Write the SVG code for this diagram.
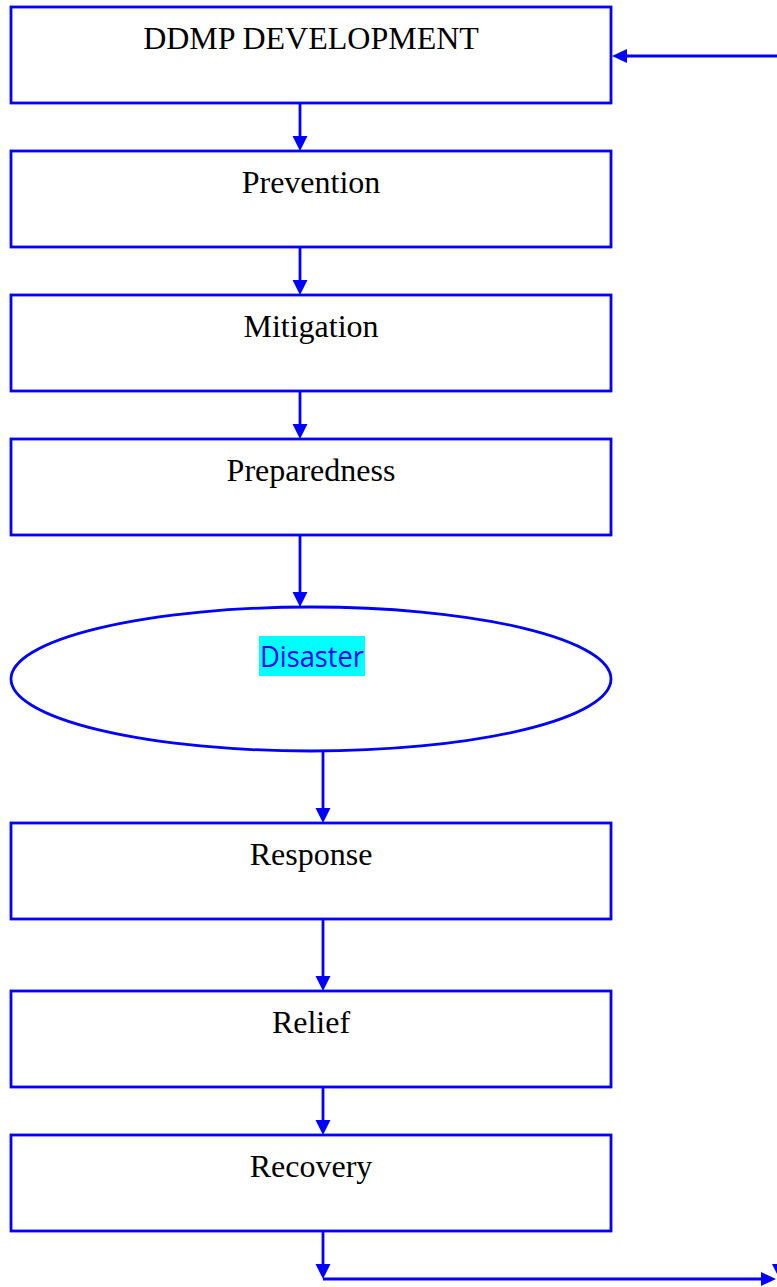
<svg xmlns="http://www.w3.org/2000/svg" width="777" height="1287" viewBox="0 0 777 1287">
<style>
.box{fill:#fff;stroke:#0000ff;stroke-width:2.8}
.lbl{font-family:"Liberation Serif","Times New Roman",serif;font-size:32px;fill:#000;text-anchor:middle}
.con{stroke:#0000ff;stroke-width:2.8;fill:none}
.hd{fill:#0000ff}
</style>
<rect width="777" height="1287" fill="#fff"/>
<g id="n-ddmp"><rect class="box" x="11" y="7" width="600" height="96"/><text class="lbl" x="311" y="49">DDMP DEVELOPMENT</text></g>
<g id="n-prevention"><rect class="box" x="11" y="151" width="600" height="96"/><text class="lbl" x="311" y="193">Prevention</text></g>
<g id="n-mitigation"><rect class="box" x="11" y="295" width="600" height="96"/><text class="lbl" x="311" y="337">Mitigation</text></g>
<g id="n-preparedness"><rect class="box" x="11" y="439" width="600" height="96"/><text class="lbl" x="311" y="481">Preparedness</text></g>
<g id="n-disaster"><ellipse class="box" cx="311" cy="679" rx="300" ry="72"/><rect x="259" y="636" width="106" height="40" fill="#00ffff"/><text x="312" y="667" font-family="'Open Sans','Noto Sans',sans-serif" font-size="30" fill="#0000ff" text-anchor="middle" textLength="104" lengthAdjust="spacingAndGlyphs">Disaster</text></g>
<g id="n-response"><rect class="box" x="11" y="823" width="600" height="96"/><text class="lbl" x="311" y="865">Response</text></g>
<g id="n-relief"><rect class="box" x="11" y="991" width="600" height="96"/><text class="lbl" x="311" y="1033">Relief</text></g>
<g id="n-recovery"><rect class="box" x="11" y="1135" width="600" height="96"/><text class="lbl" x="311" y="1177">Recovery</text></g>
<g id="connectors">
<line class="con" x1="300" y1="103" x2="300" y2="137"/><polygon class="hd" points="292.5,136 307.5,136 300,151"/>
<line class="con" x1="300" y1="247" x2="300" y2="281"/><polygon class="hd" points="292.5,280 307.5,280 300,295"/>
<line class="con" x1="300" y1="391" x2="300" y2="425"/><polygon class="hd" points="292.5,424 307.5,424 300,439"/>
<line class="con" x1="300" y1="535" x2="300" y2="593"/><polygon class="hd" points="292.5,592 307.5,592 300,607"/>
<line class="con" x1="323" y1="751" x2="323" y2="809"/><polygon class="hd" points="315.5,808 330.5,808 323,823"/>
<line class="con" x1="323" y1="919" x2="323" y2="977"/><polygon class="hd" points="315.5,976 330.5,976 323,991"/>
<line class="con" x1="323" y1="1087" x2="323" y2="1121"/><polygon class="hd" points="315.5,1120 330.5,1120 323,1135"/>
<line class="con" x1="323" y1="1231" x2="323" y2="1265"/><polygon class="hd" points="315.5,1264 330.5,1264 323,1279"/>
<line class="con" x1="323" y1="1279" x2="762" y2="1279"/><polygon class="hd" points="761,1272 761,1286 776,1279"/>
<polygon class="hd" points="772,1264 787,1264 779.5,1279"/>
<line class="con" x1="777" y1="56" x2="626" y2="56"/><polygon class="hd" points="627,49 627,63 612,56"/>
</g>
</svg>
